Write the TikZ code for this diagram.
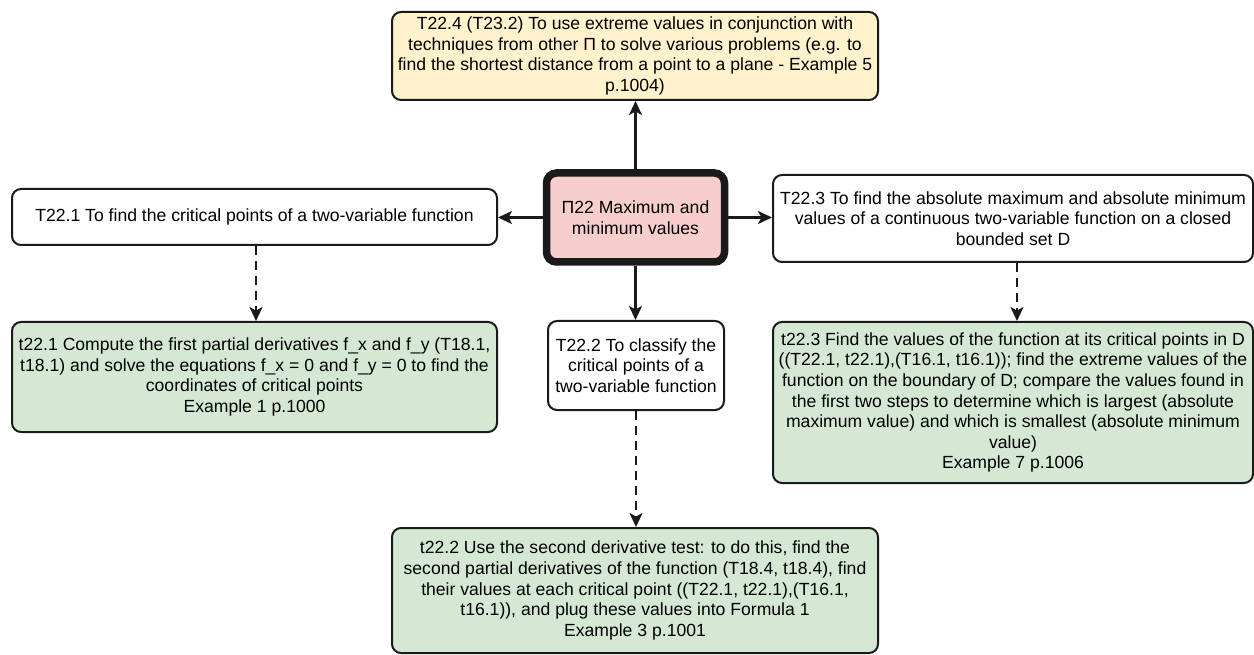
\documentclass[tikz,border=0pt]{standalone}
\usepackage{fontspec}
\setmainfont{Liberation Sans}
\usetikzlibrary{arrows.meta}
\definecolor{goalfill}{HTML}{FFF2CC}
\definecolor{taskfill}{HTML}{D5E8D4}
\definecolor{corefill}{HTML}{F8CECC}
\definecolor{inkline}{HTML}{1A1A1A}
\tikzset{
  box/.style={draw=inkline, line width=2pt, rounded corners=9pt, align=center,
    inner sep=3pt, font=\fontsize{17.6}{20.6}\selectfont},
  topic/.style={box, fill=white},
  goal/.style={box, fill=goalfill},
  task/.style={box, fill=taskfill},
  core/.style={box, fill=corefill, line width=7.5pt, rounded corners=10pt},
  conn/.style={draw=inkline, line width=2.2pt, -{Stealth[length=14pt,width=13pt,inset=3.5pt]}},
  dconn/.style={conn, dash pattern=on 9pt off 6pt},
}
\begin{document}
\begin{tikzpicture}[x=1pt,y=-1pt]
\useasboundingbox (0,0) rectangle (1254,655);

% central topic
\node[core, minimum width=178pt, minimum height=89pt] (c) at (635.5,217.5)
  {Π22 Maximum and\\minimum values};

% goal above
\node[goal, minimum width=486pt, minimum height=88pt] (g4) at (635,56)
  {T22.4 (T23.2) To use extreme values in conjunction with\\
   techniques from other Π to solve various problems (e.g. to\\
   find the shortest distance from a point to a plane - Example 5\\
   p.1004)};

% sub-topics
\node[topic, minimum width=485pt, minimum height=56pt] (t1) at (254.5,217)
  {T22.1 To find the critical points of a two-variable function};

\node[topic, minimum width=480pt, minimum height=87pt] (t3) at (1013,218.5)
  {T22.3 To find the absolute maximum and absolute minimum\\
   values of a continuous two-variable function on a closed\\
   bounded set D};

\node[topic, minimum width=176pt, minimum height=89pt] (t2) at (636,365.5)
  {T22.2 To classify the\\critical points of a\\two-variable function};

% tasks
\node[task, minimum width=485pt, minimum height=110pt] (s1) at (254.5,377)
  {t22.1 Compute the first partial derivatives f\_x and f\_y (T18.1,\\
   t18.1) and solve the equations f\_x = 0 and f\_y = 0 to find the\\
   coordinates of critical points\\
   Example 1 p.1000};

\node[task, minimum width=480pt, minimum height=161pt] (s3) at (1013,402.5)
  {t22.3 Find the values of the function at its critical points in D\\
   ((T22.1, t22.1),(T16.1, t16.1)); find the extreme values of the\\
   function on the boundary of D; compare the values found in\\
   the first two steps to determine which is largest (absolute\\
   maximum value) and which is smallest (absolute minimum\\
   value)\\
   Example 7 p.1006};

\node[task, minimum width=486pt, minimum height=125pt] (s2) at (635,590.5)
  {t22.2 Use the second derivative test: to do this, find the\\
   second partial derivatives of the function (T18.4, t18.4), find\\
   their values at each critical point ((T22.1, t22.1),(T16.1,\\
   t16.1)), and plug these values into Formula 1\\
   Example 3 p.1001};

% connectors
\draw[conn] (c.north) -- (c.north |- g4.south);
\draw[conn] (c.west) -- (c.west -| t1.east);
\draw[conn] (c.east) -- (c.east -| t3.west);
\draw[conn] (c.south) -- (c.south |- t2.north);
\draw[dconn] ([xshift=1.5pt]t1.south) -- ([xshift=1.5pt]t1.south |- s1.north);
\draw[dconn] ([xshift=4pt]t3.south) -- ([xshift=4pt]t3.south |- s3.north);
\draw[dconn] (t2.south) -- (t2.south |- s2.north);
\end{tikzpicture}
\end{document}
